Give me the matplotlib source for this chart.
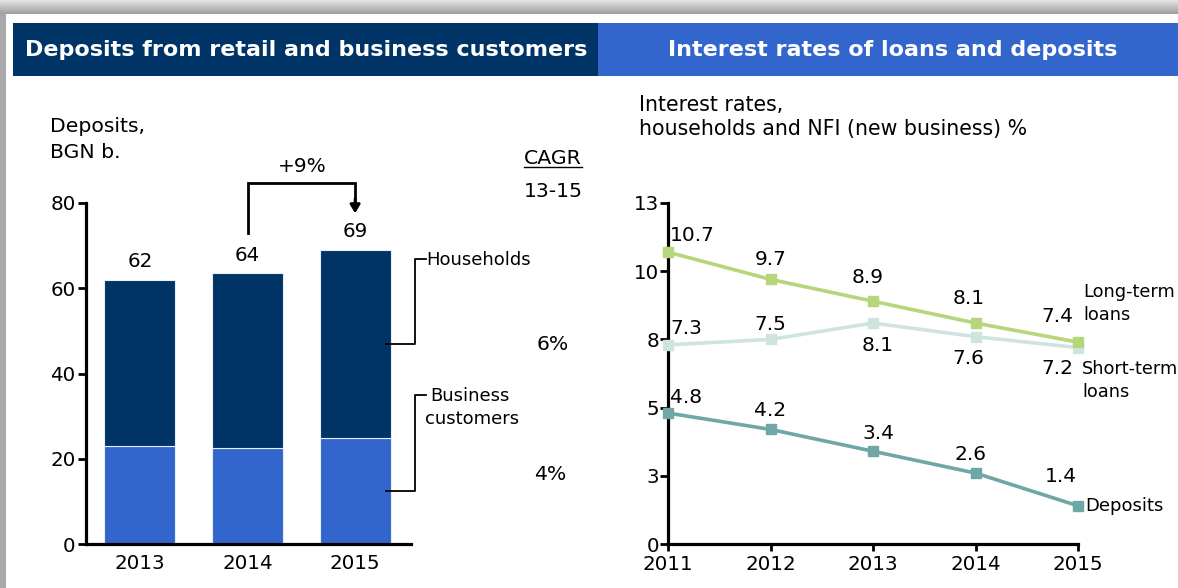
import matplotlib
matplotlib.use('Agg')
import matplotlib.pyplot as plt
import numpy as np
from matplotlib.patches import Rectangle
from matplotlib.lines import Line2D

# ---------------- data ----------------
bar_years = ['2013', '2014', '2015']
business = [23.0, 22.6, 24.8]
households = [39.0, 41.0, 44.2]
cagr_households = '6%'
cagr_business = '4%'
growth_label = '+9%'

line_years = [2011, 2012, 2013, 2014, 2015]
long_term = [10.7, 9.7, 8.9, 8.1, 7.4]
short_term = [7.3, 7.5, 8.1, 7.6, 7.2]
deposit_rates = [4.8, 4.2, 3.4, 2.6, 1.4]
rate_ticks = [0, 2.5, 5, 7.5, 10, 12.5]
rate_tick_labels = ['0', '3', '5', '8', '10', '13']

# ---------------- style ----------------
NAVY = '#003366'
BLUE = '#3366cc'
C_LONG = '#b5d67a'
C_SHORT = '#cde4e0'
C_DEP = '#6fa6a6'
FONT = 'DejaVu Sans'
plt.rcParams['font.family'] = FONT

W, H = 1178, 588
fig = plt.figure(figsize=(W / 100, H / 100), dpi=100)
fig.patch.set_facecolor('white')


def fx(px):
    return px / W


def fy(py):
    return 1 - py / H


def rect_px(x0, y0, x1, y1, color, z=0):
    fig.add_artist(Rectangle((fx(x0), fy(y1)), (x1 - x0) / W, (y1 - y0) / H,
                             transform=fig.transFigure, facecolor=color,
                             edgecolor='none', zorder=z))


def ftext(x, y, s, **kw):
    fig.text(fx(x), fy(y), s, **kw)


# frame: top gradient band and left border
gax = fig.add_axes([0, fy(14), 1, 14 / H])
grad = np.linspace(0.90, 0.62, 50)[:, None]
gax.imshow(grad, cmap='gray', vmin=0, vmax=1, aspect='auto', extent=[0, 1, 0, 1])
gax.axis('off')
rect_px(0, 14, 6, H, '#a9a9a9')

# headers
rect_px(13, 23, 598, 76, NAVY)
rect_px(598, 23, W, 76, BLUE)
ftext(306, 50, 'Deposits from retail and business customers', color='white',
      fontsize=16, fontweight='bold', ha='center', va='center')
ftext(893, 50, 'Interest rates of loans and deposits', color='white',
      fontsize=16, fontweight='bold', ha='center', va='center')

# ---------------- left chart ----------------
ax1 = fig.add_axes([fx(86), fy(544), (411 - 86) / W, (544 - 203) / H])
xpos = np.arange(len(bar_years))
ax1.bar(xpos, business, width=0.66, color=BLUE, edgecolor='#e8eef8', linewidth=0.8, zorder=2)
ax1.bar(xpos, households, bottom=business, width=0.66, color=NAVY,
        edgecolor='#e8eef8', linewidth=0.8, zorder=2)
ax1.set_xlim(-0.502, 2.52)
ax1.set_ylim(0, 80)
ax1.set_yticks([0, 20, 40, 60, 80])
ax1.set_xticks(xpos)
ax1.set_xticklabels(bar_years)
for s in ['top', 'right']:
    ax1.spines[s].set_visible(False)
for s in ['left', 'bottom']:
    ax1.spines[s].set_linewidth(2.3)
ax1.tick_params(axis='y', length=6, width=2, labelsize=14.3, pad=1.5)
ax1.tick_params(axis='x', length=0, labelsize=14.3, pad=7)
ax1.patch.set_alpha(0)

totals = [b + h for b, h in zip(business, households)]
for x, t in zip(xpos, totals):
    ax1.text(x, t + 4.2, f'{round(t):d}', ha='center', va='center', fontsize=14.3)

# +9% bracket arrow from 2014 to 2015
ax1.plot([1, 1, 2, 2], [72.9, 84.8, 84.8, 80.5], color='black', lw=2, clip_on=False,
         solid_joinstyle='miter')
ax1.annotate('', xy=(2, 77.6), xytext=(2, 81), xycoords='data',
             arrowprops=dict(arrowstyle='-|>,head_length=0.5,head_width=0.3',
                             color='black', lw=2, shrinkA=0, shrinkB=0),
             annotation_clip=False)
ftext(302, 167, growth_label, fontsize=14.5, ha='center', va='center')

# segment brackets
hh_mid = business[2] + households[2] / 2
bu_mid = business[2] / 2
ax1.plot([2.285, 2.555, 2.555, 2.66], [hh_mid, hh_mid, 66.9, 66.9], color='black',
         lw=1.3, clip_on=False)
ax1.plot([2.285, 2.555, 2.555, 2.66], [bu_mid, bu_mid, 34.9, 34.9], color='black',
         lw=1.3, clip_on=False)
ftext(426, 260, 'Households', fontsize=13, ha='left', va='center')
ftext(430, 396, 'Business', fontsize=13, ha='left', va='center')
ftext(425, 419, 'customers', fontsize=13, ha='left', va='center')

ftext(50, 127, 'Deposits,', fontsize=14.7, ha='left', va='center')
ftext(50, 152, 'BGN b.', fontsize=14.7, ha='left', va='center')

ftext(553, 158, 'CAGR', fontsize=14.7, ha='center', va='center')
fig.add_artist(Line2D([fx(524), fx(582)], [fy(167), fy(167)], color='black', lw=1,
                      transform=fig.transFigure))
ftext(553, 191, '13-15', fontsize=14.7, ha='center', va='center')
ftext(553, 344, cagr_households, fontsize=14.7, ha='center', va='center')
ftext(550, 474, cagr_business, fontsize=14.7, ha='center', va='center')

# ---------------- right chart ----------------
ax2 = fig.add_axes([fx(668), fy(544), (1078 - 668) / W, (544 - 203) / H])
ax2.set_xlim(2011, 2015)
ax2.set_ylim(0, 12.5)
mk = dict(marker='s', markersize=7.5, lw=2.6, clip_on=False, zorder=3)
ax2.plot(line_years, short_term, color=C_SHORT, **mk)
ax2.plot(line_years, long_term, color=C_LONG, **mk)
ax2.plot(line_years, deposit_rates, color=C_DEP, **mk)
ax2.set_yticks(rate_ticks)
ax2.set_yticklabels(rate_tick_labels)
ax2.set_xticks(line_years)
ax2.set_xticklabels([str(y) for y in line_years])
for s in ['top', 'right']:
    ax2.spines[s].set_visible(False)
for s in ['left', 'bottom']:
    ax2.spines[s].set_linewidth(2.3)
ax2.tick_params(axis='y', length=6, width=2, labelsize=14.3, pad=0.5)
ax2.tick_params(axis='x', length=5, width=2, labelsize=14.3, pad=3)
ax2.patch.set_alpha(0)

# data label offsets in pixels (dx, dy up positive)
off_long = [(24, 17), (0, 20), (-5, 24), (-7, 25), (-21, 26)]
off_short = [(18, 16), (0, 15), (5, -22), (-7, -22), (-21, -21)]
off_dep = [(18, 16), (0, 19), (5, 18), (-5, 19), (-17, 29)]
for vals, offs in [(long_term, off_long), (short_term, off_short), (deposit_rates, off_dep)]:
    for x, v, (dx, dy) in zip(line_years, vals, offs):
        ax2.annotate(f'{v:.1f}', xy=(x, v), xytext=(dx * 0.72, dy * 0.72),
                     textcoords='offset points', ha='center', va='center',
                     fontsize=14.5, annotation_clip=False)

ftext(639, 105, 'Interest rates,', fontsize=14.8, ha='left', va='center')
ftext(639, 129, 'households and NFI (new business) %', fontsize=14.8, ha='left', va='center')
ftext(1083, 292, 'Long-term', fontsize=12.8, ha='left', va='center')
ftext(1083, 315, 'loans', fontsize=12.8, ha='left', va='center')
ftext(1082, 369, 'Short-term', fontsize=12.8, ha='left', va='center')
ftext(1082, 392, 'loans', fontsize=12.8, ha='left', va='center')
ftext(1085, 506, 'Deposits', fontsize=13, ha='left', va='center')

fig.savefig('out.png', dpi=100)
